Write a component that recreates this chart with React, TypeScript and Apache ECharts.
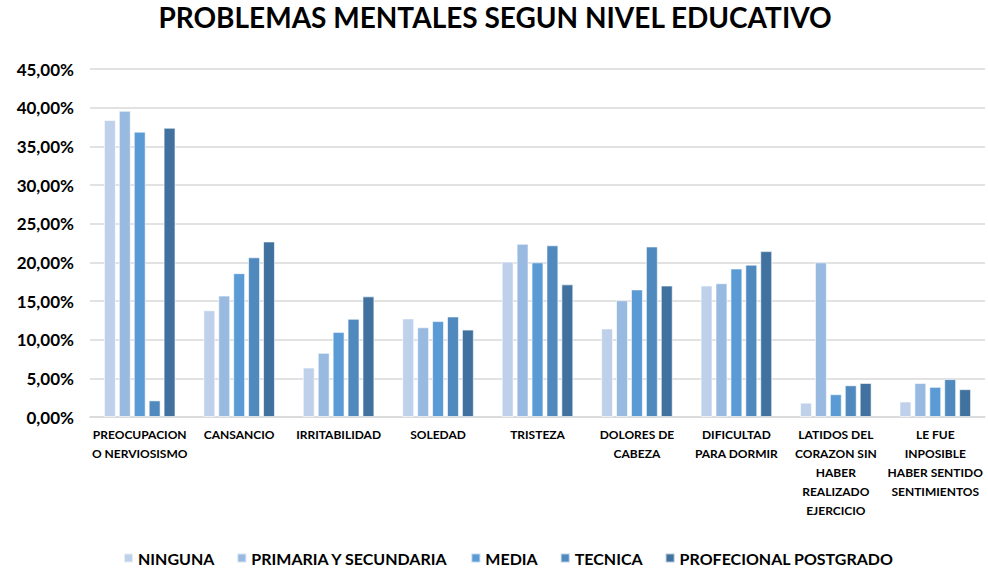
import React, { useEffect, useRef } from "react";
import * as echarts from "echarts";

const categories = [
  "PREOCUPACION\nO NERVIOSISMO",
  "CANSANCIO",
  "IRRITABILIDAD",
  "SOLEDAD",
  "TRISTEZA",
  "DOLORES DE\nCABEZA",
  "DIFICULTAD\nPARA DORMIR",
  "LATIDOS DEL\nCORAZON SIN\nHABER\nREALIZADO\nEJERCICIO",
  "LE FUE\nINPOSIBLE\nHABER SENTIDO\nSENTIMIENTOS",
];

const ninguna = [38.4, 13.8, 6.4, 12.75, 20.1, 11.45, 17.0, 1.85, 2.0];
const primaria = [39.6, 15.7, 8.3, 11.6, 22.4, 15.1, 17.3, 20.0, 4.4];
const media = [36.9, 18.6, 11.0, 12.4, 20.0, 16.5, 19.2, 2.95, 3.9];
const tecnica = [2.15, 20.65, 12.7, 13.0, 22.2, 22.05, 19.7, 4.1, 4.9];
const profesional = [37.4, 22.7, 15.6, 11.3, 17.15, 17.0, 21.45, 4.4, 3.6];

const seriesNames = [
  "NINGUNA",
  "PRIMARIA Y SECUNDARIA",
  "MEDIA",
  "TECNICA",
  "PROFECIONAL POSTGRADO",
];
const seriesData = [ninguna, primaria, media, tecnica, profesional];
const colors = ["#BFD1EA", "#98B9E0", "#5B9BD5", "#4F89BD", "#41729F"];

const FONT = 'Lato, "Open Sans", sans-serif';

export default function App() {
  const ref = useRef<HTMLDivElement>(null);
  useEffect(() => {
    if (!ref.current) return;
    const chart = echarts.init(ref.current, null, { renderer: "svg" });
    chart.setOption({
      animation: false,
      color: colors,
      title: {
        text: "PROBLEMAS MENTALES SEGUN NIVEL EDUCATIVO",
        left: 490,
        textAlign: "center",
        top: -2,
        textStyle: {
          fontFamily: FONT,
          fontWeight: "bold",
          fontSize: 28,
          color: "#000",
        },
      },
      legend: {
        top: 545,
        left: 118,
        itemWidth: 9,
        itemHeight: 9,
        itemGap: 22,
        icon: "rect",
        textStyle: {
          fontFamily: FONT,
          fontWeight: "bold",
          fontSize: 16,
          color: "#000",
        },
      },
      grid: {
        left: 90,
        right: 3,
        top: 69,
        bottom: 154,
      },
      xAxis: {
        type: "category",
        data: categories,
        axisLine: { lineStyle: { color: "#d9d9d9", width: 1.5 } },
        axisTick: { show: false },
        axisLabel: {
          interval: 0,
          fontFamily: FONT,
          fontWeight: "bold",
          fontSize: 12,
          lineHeight: 19,
          color: "#000",
          margin: 8,
        },
      },
      yAxis: {
        type: "value",
        min: 0,
        max: 45,
        interval: 5,
        axisLine: { show: false },
        axisTick: { show: false },
        splitLine: { lineStyle: { color: "#d9d9d9", width: 1.5 } },
        axisLabel: {
          fontFamily: FONT,
          fontWeight: "bold",
          fontSize: 17,
          color: "#000",
          margin: 16,
          formatter: (v: number) => v.toFixed(2).replace(".", ",") + "%",
        },
      },
      series: seriesNames.map((name, i) => ({
        name,
        type: "bar",
        data: seriesData[i],
        barGap: "25%",
        barCategoryGap: "28%",
        itemStyle: { borderColor: "rgba(255,255,255,0.6)", borderWidth: 1 },
      })),
    });
    return () => chart.dispose();
  }, []);
  return <div ref={ref} style={{ width: 988, height: 571, position: "absolute", left: 0, top: 0 }} />;
}
